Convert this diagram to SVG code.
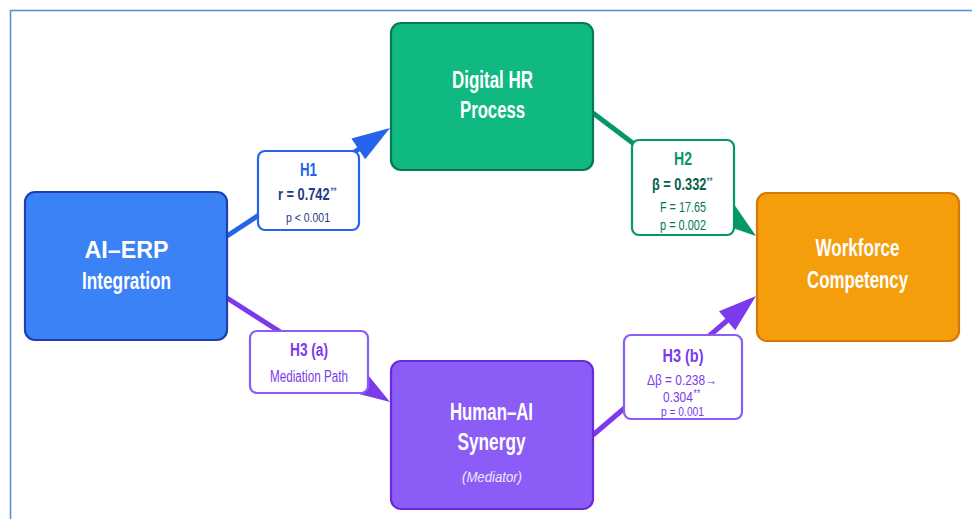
<svg xmlns="http://www.w3.org/2000/svg" width="972" height="519" viewBox="0 0 972 519">
<style>
text{font-family:"Liberation Sans",Arial,sans-serif;text-anchor:middle}
.nt{font-size:23px;font-weight:bold;fill:#ffffff}
.lt{font-size:18px;font-weight:bold}
.lb{font-size:16px;font-weight:bold}
.ls{font-size:14px}
.box{fill:#ffffff;stroke-width:2.2}
.node{stroke-width:2.2}
.st{text-anchor:start}
.sup{font-size:10px;text-anchor:start}
</style>
<rect x="10.5" y="10.5" width="975" height="525" fill="#ffffff" stroke="#5b8ed6" stroke-width="1.6"/>
<g id="connectors" stroke-linecap="butt">
  <line x1="227" y1="236" x2="362" y2="147" stroke="#2563eb" stroke-width="5"/>
  <polygon points="390,128 351.4,138.5 365.2,159.3" fill="#2563eb"/>
  <line x1="593" y1="113" x2="728" y2="215" stroke="#059669" stroke-width="5"/>
  <polygon points="756,236 718.2,223.1 733.2,203.1" fill="#059669"/>
  <line x1="227" y1="298" x2="362" y2="384" stroke="#7c3aed" stroke-width="5"/>
  <polygon points="390,402 351.3,391.9 364.8,370.9" fill="#7c3aed"/>
  <line x1="593" y1="435" x2="729" y2="319" stroke="#7c3aed" stroke-width="5"/>
  <polygon points="756,296 735.2,330.2 719,311.2" fill="#7c3aed"/>
</g>
<g id="node-ai-erp">
  <rect class="node" x="25" y="192" width="202" height="148" rx="10" fill="#3b82f6" stroke="#1e40af"/>
  <text class="nt" x="126.5" y="258" textLength="84" lengthAdjust="spacingAndGlyphs">AI–ERP</text>
  <text class="nt" x="126.5" y="289" textLength="89" lengthAdjust="spacingAndGlyphs">Integration</text>
</g>
<g id="node-digital-hr">
  <rect class="node" x="391" y="23" width="202" height="147" rx="10" fill="#10b981" stroke="#047857"/>
  <text class="nt" x="492.5" y="88" textLength="81" lengthAdjust="spacingAndGlyphs">Digital HR</text>
  <text class="nt" x="492.5" y="118" textLength="65" lengthAdjust="spacingAndGlyphs">Process</text>
</g>
<g id="node-workforce">
  <rect class="node" x="757" y="193" width="202" height="148" rx="10" fill="#f59e0b" stroke="#d97706"/>
  <text class="nt" x="857.5" y="256" textLength="84" lengthAdjust="spacingAndGlyphs">Workforce</text>
  <text class="nt" x="857.5" y="288" textLength="101" lengthAdjust="spacingAndGlyphs">Competency</text>
</g>
<g id="node-human-ai">
  <rect class="node" x="391" y="361" width="202" height="148" rx="10" fill="#8b5cf6" stroke="#6d28d9"/>
  <text class="nt" x="491.5" y="420" textLength="83" lengthAdjust="spacingAndGlyphs">Human–AI</text>
  <text class="nt" x="491.5" y="450" textLength="68" lengthAdjust="spacingAndGlyphs">Synergy</text>
  <text x="492" y="482" font-size="15" font-style="italic" fill="#ede9fe" textLength="60" lengthAdjust="spacingAndGlyphs">(Mediator)</text>
</g>
<g id="label-h1">
  <rect class="box" x="258" y="151" width="101" height="79" rx="7" stroke="#2563eb"/>
  <text class="lt" x="308.5" y="176" fill="#2563eb" textLength="17" lengthAdjust="spacingAndGlyphs">H1</text>
  <g transform="translate(278,200) scale(0.8,1)" fill="#1e3a8a">
    <text class="lb st" x="0" y="0">r = 0.742</text>
    <text class="sup" x="65.5" y="-5">**</text>
  </g>
  <text x="308" y="222" font-size="13" fill="#1e3a8a" textLength="44" lengthAdjust="spacingAndGlyphs">p &lt; 0.001</text>
</g>
<g id="label-h2">
  <rect class="box" x="632" y="140" width="102" height="95" rx="7" stroke="#059669"/>
  <text class="lt" x="683" y="165" fill="#059669" textLength="18" lengthAdjust="spacingAndGlyphs">H2</text>
  <g transform="translate(652,190) scale(0.8,1)" fill="#065f46">
    <text class="lb st" x="0" y="0">β = 0.332</text>
    <text class="sup" x="68" y="-5">**</text>
  </g>
  <text class="ls" x="683" y="212" fill="#047857" textLength="46" lengthAdjust="spacingAndGlyphs">F = 17.65</text>
  <text class="ls" x="683" y="230" fill="#047857" textLength="46" lengthAdjust="spacingAndGlyphs">p = 0.002</text>
</g>
<g id="label-h3a">
  <rect class="box" x="250" y="331" width="118" height="62" rx="7" stroke="#8b5cf6"/>
  <text class="lt" x="309" y="356" fill="#7c3aed" textLength="38" lengthAdjust="spacingAndGlyphs">H3 (a)</text>
  <text x="309" y="382" font-size="16" fill="#7c3aed" textLength="78" lengthAdjust="spacingAndGlyphs">Mediation Path</text>
</g>
<g id="label-h3b">
  <rect class="box" x="624" y="335" width="118" height="84" rx="7" stroke="#8b5cf6"/>
  <text class="lt" x="683" y="362" fill="#7c3aed" textLength="41" lengthAdjust="spacingAndGlyphs">H3 (b)</text>
  <text class="ls" x="682" y="385" fill="#7c3aed" textLength="70" lengthAdjust="spacingAndGlyphs">Δβ = 0.238→</text>
  <g transform="translate(663,402) scale(0.85,1)" fill="#7c3aed">
    <text class="ls st" x="0" y="0">0.304</text>
    <text class="sup" x="36" y="-5">**</text>
  </g>
  <text x="682.5" y="416" font-size="13" fill="#7c3aed" textLength="43" lengthAdjust="spacingAndGlyphs">p = 0.001</text>
</g>
</svg>
